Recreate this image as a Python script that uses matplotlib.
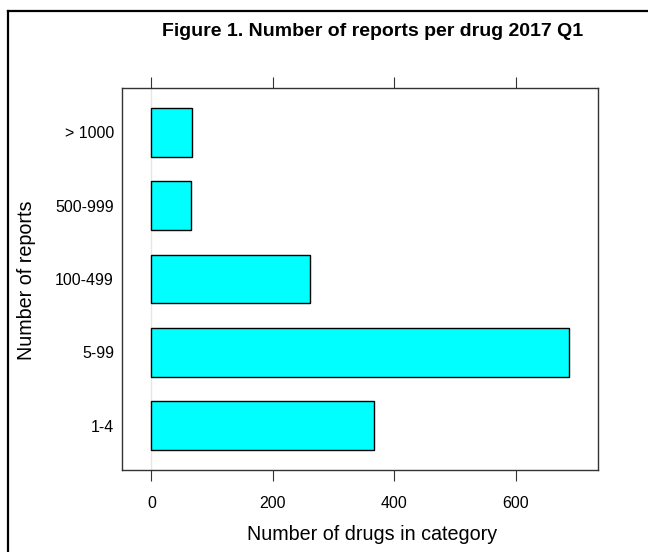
import matplotlib
matplotlib.use("Agg")
import matplotlib.pyplot as plt
from matplotlib.lines import Line2D

categories = ["1-4", "5-99", "100-499", "500-999", "> 1000"]
counts = [366, 688, 261, 65, 67]
xticks = [0, 200, 400, 600]

plt.rcParams['font.family'] = ['Liberation Sans', 'DejaVu Sans']

W, H = 648, 552
fig = plt.figure(figsize=(W/100, H/100), dpi=100)
ax = fig.add_axes([122.3/W, 1-470/H, (598.3-122.3)/W, (470-88)/H])

ypos = list(range(1, len(categories)+1))
ax.axvline(0, color='#e6e6e6', lw=1, zorder=0)
ax.barh(ypos, counts, height=2/3, color='#00ffff', edgecolor='black', linewidth=1, zorder=2)

ax.set_xlim(-48, 736)
ax.set_ylim(0.4, len(categories)+0.6)
ax.set_yticks(ypos)
ax.set_yticklabels(categories, fontsize=11.5)
ax.set_xticks(xticks)
ax.set_xticklabels([str(t) for t in xticks], fontsize=11.5)
ax.tick_params(axis='x', which='both', top=True, bottom=True, labeltop=False,
               direction='out', length=7.8, width=0.8, color='#333333', pad=11)
ax.tick_params(axis='y', length=0, pad=6)
for s in ax.spines.values():
    s.set_color('#333333')
    s.set_linewidth(1)

fig.text(372/W, 1-534/H, "Number of drugs in category", ha='center', va='center', fontsize=14.2)
fig.text(27/W, 1-280/H, "Number of reports", ha='center', va='center', rotation=90, fontsize=14.2)

fig.text(373/W, 1-31/H, "Figure 1. Number of reports per drug 2017 Q1",
         ha='center', va='center', fontsize=14, fontweight='bold')

# outer border (top and left visible)
fig.add_artist(Line2D([8/W, 1.0], [1-11/H, 1-11/H], transform=fig.transFigure, color='black', lw=1.6))
fig.add_artist(Line2D([8/W, 8/W], [0.0, 1-11/H], transform=fig.transFigure, color='black', lw=1.6))

fig.savefig("out.png", dpi=100)
